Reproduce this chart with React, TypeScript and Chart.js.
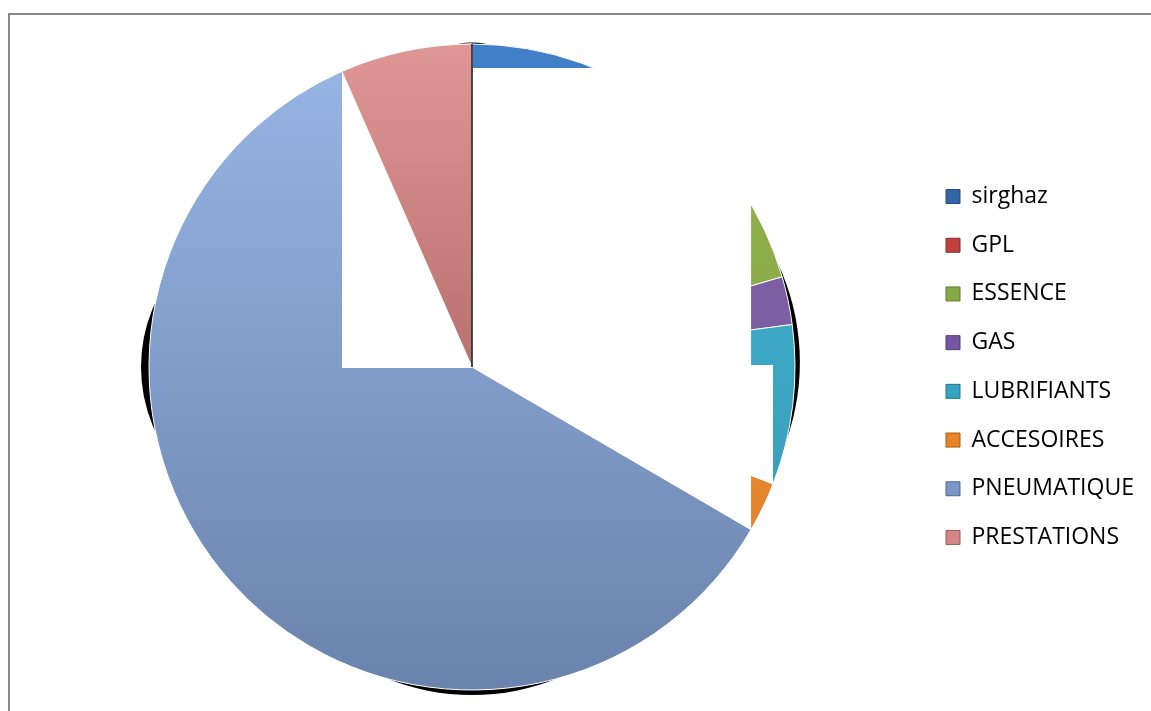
import React, { useEffect, useRef } from "react";
import { Chart, registerables } from "chart.js";

Chart.register(...registerables);

// ---- data ----
const categories = [
  "sirghaz",
  "GPL",
  "ESSENCE",
  "GAS",
  "LUBRIFIANTS",
  "ACCESOIRES",
  "PNEUMATIQUE",
  "PRESTATIONS",
];
const shares = [11, 4.5, 5, 2.4, 8, 2.5, 60, 6.6];

// slice colours (top / bottom of a vertical shading)
const sliceTop = ["#4180c8", "#c85653", "#93b44f", "#8466ad", "#45b2cf", "#f39440", "#98b6e6", "#df9795"];
const sliceBottom = ["#336aae", "#a94441", "#7f9e3e", "#6f5294", "#3199b6", "#dd7f24", "#6a83ac", "#b9716f"];
const legendFill = ["#3465a4", "#c0413e", "#86a845", "#7556a0", "#35a3c0", "#e7852a", "#7a97c8", "#d38684"];
const legendEdge = ["#234a7a", "#8c2a28", "#5d7a2a", "#523a75", "#22768c", "#a85a12", "#4f6790", "#9c5957"];

const FONT_FAMILY = '"Open Sans", "Noto Sans", sans-serif';
const FONT_SIZE = 23;

const W = 1151;
const H = 711;

export default function App() {
  const ref = useRef<HTMLCanvasElement | null>(null);

  useEffect(() => {
    const canvas = ref.current;
    if (!canvas) return;

    // legend geometry
    const m = document.createElement("canvas").getContext("2d")!;
    m.font = `${FONT_SIZE}px ${FONT_FAMILY}`;
    const maxText = Math.max(...categories.map((c) => m.measureText(c).width));
    const LEG_P = 25.7;
    const BOX = 14;
    const legendLeft = 946 - LEG_P;
    const legendWidth = LEG_P + BOX + FONT_SIZE / 2 + maxText + 10;
    const padRight = Math.max(0, W - legendLeft - legendWidth);
    const padLeft = 2 * 472 - legendLeft;

    const shade = (c: any) => {
      const i = c.dataIndex ?? 0;
      const chart = c.chart;
      const area = chart.chartArea;
      if (!area) return sliceTop[i];
      const cy = (area.top + area.bottom) / 2;
      const r = 323;
      const g = chart.ctx.createLinearGradient(0, cy - r, 0, cy + r);
      if (i === 7) {
        g.addColorStop(0, sliceTop[i]);
        g.addColorStop(0.5, sliceBottom[i]);
        g.addColorStop(1, sliceBottom[i]);
      } else {
        g.addColorStop(0, sliceTop[i]);
        g.addColorStop(1, sliceBottom[i]);
      }
      return g;
    };

    const artifacts = {
      id: "artifacts",
      beforeDatasetsDraw(chart: any) {
        const arcs = chart.getDatasetMeta(0).data;
        if (!arcs.length) return;
        const { x: cx, y: cy, outerRadius: r } = arcs[0];
        const ctx = chart.ctx;
        ctx.save();
        ctx.fillStyle = "#000";
        const lens = (angle: number, t: number, h: number) => {
          const d = r - Math.sqrt(r * r - h * h);
          const rho = ((t + d) * (t + d) + h * h) / (2 * (t + d));
          const dist = r + t - rho;
          ctx.beginPath();
          ctx.arc(cx + Math.cos(angle) * dist, cy + Math.sin(angle) * dist, rho, 0, Math.PI * 2);
          ctx.fill();
        };
        lens(Math.PI, 8, 65);
        lens(Math.PI / 2, 5, 84);
        lens(-0.05, 5, 88);
        lens(-Math.PI / 2, 1.5, 16);
        ctx.restore();
      },
      afterDatasetsDraw(chart: any) {
        const arcs = chart.getDatasetMeta(0).data;
        if (!arcs.length) return;
        const { x: cx, y: cy, outerRadius: r } = arcs[0];
        const ctx = chart.ctx;
        const a5 = arcs[5].startAngle;
        const a6 = arcs[6].startAngle;
        const xL = cx - 0.4025 * r;
        const yT = cy - 0.926 * r;
        const xR1 = cx + 0.864 * r;
        const xR2 = cx + 0.932 * r;
        const yM = cy - 0.0062 * r;
        ctx.save();
        ctx.fillStyle = "#ffffff";
        ctx.beginPath();
        ctx.moveTo(xL, yT);
        ctx.lineTo(xR1, yT);
        ctx.lineTo(xR1, yM);
        ctx.lineTo(xR2, yM);
        ctx.lineTo(xR2, cy + (xR2 - cx) * Math.tan(a5));
        ctx.lineTo(xR1, cy + (xR1 - cx) * Math.tan(a5));
        ctx.lineTo(xR1, cy + (xR1 - cx) * Math.tan(a6));
        ctx.lineTo(cx, cy);
        ctx.lineTo(cx, cy + 1);
        ctx.lineTo(xL, cy + 1);
        ctx.closePath();
        ctx.fill();
        ctx.restore();
        arcs[7].draw(ctx);
        ctx.save();
        ctx.strokeStyle = "#111";
        ctx.lineWidth = 1.5;
        ctx.beginPath();
        ctx.moveTo(cx, cy);
        ctx.lineTo(cx, cy - r);
        ctx.stroke();
        ctx.restore();
      },
    };

    const chart = new Chart(canvas, {
      type: "pie",
      data: {
        labels: categories,
        datasets: [
          {
            data: shares,
            backgroundColor: shade,
            borderColor: "#ffffff",
            borderWidth: 1,
          },
        ],
      },
      options: {
        responsive: false,
        animation: false,
        events: [],
        radius: 323,
        layout: { padding: { top: 44, bottom: 21, left: padLeft, right: padRight } },
        plugins: {
          tooltip: { enabled: false },
          legend: {
            position: "right",
            labels: {
              boxWidth: BOX,
              boxHeight: BOX,
              padding: LEG_P,
              color: "#000",
              font: { family: FONT_FAMILY, size: FONT_SIZE },
              generateLabels: () =>
                categories.map((text, i) => ({
                  text,
                  fillStyle: legendFill[i],
                  strokeStyle: legendEdge[i],
                  lineWidth: 1,
                  hidden: false,
                  index: i,
                  fontColor: "#000",
                })),
            },
          },
        },
      } as any,
      plugins: [artifacts],
    });
    return () => chart.destroy();
  }, []);

  return (
    <div style={{ position: "absolute", left: 0, top: 0, width: W, height: H, overflow: "hidden", background: "#fff" }}>
      <div
        style={{
          position: "absolute",
          left: 8,
          top: 13,
          width: W + 50,
          height: H + 50,
          borderTop: "2px solid #888",
          borderLeft: "2px solid #888",
        }}
      />
      <canvas ref={ref} width={W} height={H} style={{ position: "absolute", left: 0, top: 0, width: W, height: H }} />
    </div>
  );
}
